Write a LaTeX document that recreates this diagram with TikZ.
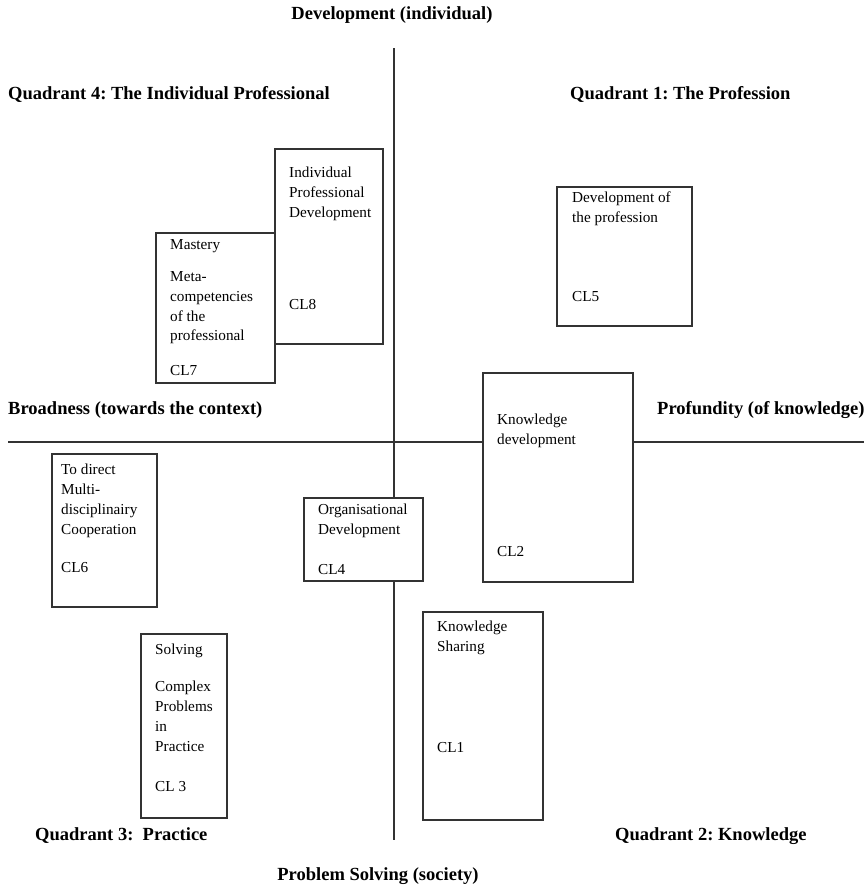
\documentclass[tikz,border=0pt]{standalone}
\usepackage{fontspec}
\setmainfont{Liberation Serif}
\usetikzlibrary{positioning}
\frenchspacing

\tikzset{
  axisline/.style={line width=1pt, black!80},
  box/.style={line width=1pt, black!80, fill=white},
  lbl/.style={anchor=north west, inner sep=0pt, align=left, font=\fontsize{13}{17}\selectfont},
  head/.style={anchor=west, inner sep=0pt, font=\fontsize{15.8}{18}\selectfont\bfseries}
}

\begin{document}
\begin{tikzpicture}[x=0.03cm, y=-0.03cm]
    \useasboundingbox (0,0) rectangle (864,887);

    % axes
    \coordinate (north) at (394,48);
    \coordinate (south) at (394,840);
    \coordinate (west) at (8,442);
    \coordinate (east) at (864,442);
    \draw[axisline] (north) -- (south);
    \draw[axisline] (west) -- (east);

    % axis and quadrant titles
    \node[head, anchor=center] (devind) at (392,15) {Development (individual)};
    \node[head] (q4) at (8,94) {Quadrant 4: The Individual Professional};
    \node[head] (q1) at (570,94) {Quadrant 1: The Profession};
    \node[head] (broad) at (8,410) {Broadness (towards the context)};
    \node[head] (prof) at (657,410) {Profundity (of knowledge)};
    \node[head] (q3) at (35,836) {Quadrant 3:\ \ Practice};
    \node[head] (q2) at (615,836) {Quadrant 2: Knowledge};
    \node[head, anchor=center] (probsolv) at (378,876) {Problem Solving (society)};

    % CL8
    \draw[box] (275,149) rectangle (383,344);
    \node[lbl] (cl8t) at (289,167) {Individual\\Professional\\Development};
    \node[lbl] (cl8) at (289,299) {CL8};

    % CL7
    \draw[box] (156,233) rectangle (275,383);
    \node[lbl] (cl7a) at (170,239) {Mastery};
    \node[lbl] (cl7t) at (170,271) {Meta-\\competencies\\of the\\professional};
    \node[lbl] (cl7) at (170,365) {CL7};

    % CL5
    \draw[box] (557,187) rectangle (692,326);
    \node[lbl] (cl5t) at (572,192) {Development of\\the profession};
    \node[lbl] (cl5) at (572,291) {CL5};

    % CL2
    \draw[box] (483,373) rectangle (633,582);
    \node[lbl] (cl2t) at (497,414) {Knowledge\\development};
    \node[lbl] (cl2) at (497,546) {CL2};

    % CL6
    \draw[box] (52,454) rectangle (157,607);
    \node[lbl] (cl6t) at (61,464) {To direct\\Multi-\\disciplinairy\\Cooperation};
    \node[lbl] (cl6) at (61,562) {CL6};

    % CL4
    \draw[box] (304,498) rectangle (423,581);
    \node[lbl] (cl4t) at (318,504) {Organisational\\Development};
    \node[lbl] (cl4) at (318,564) {CL4};

    % CL3
    \draw[box] (141,634) rectangle (227,818);
    \node[lbl] (cl3a) at (155,644) {Solving};
    \node[lbl] (cl3t) at (155,681) {Complex\\Problems\\in\\Practice};
    \node[lbl] (cl3) at (155,781) {CL 3};

    % CL1
    \draw[box] (423,612) rectangle (543,820);
    \node[lbl] (cl1t) at (437,621) {Knowledge\\Sharing};
    \node[lbl] (cl1) at (437,742) {CL1};
\end{tikzpicture}
\end{document}
